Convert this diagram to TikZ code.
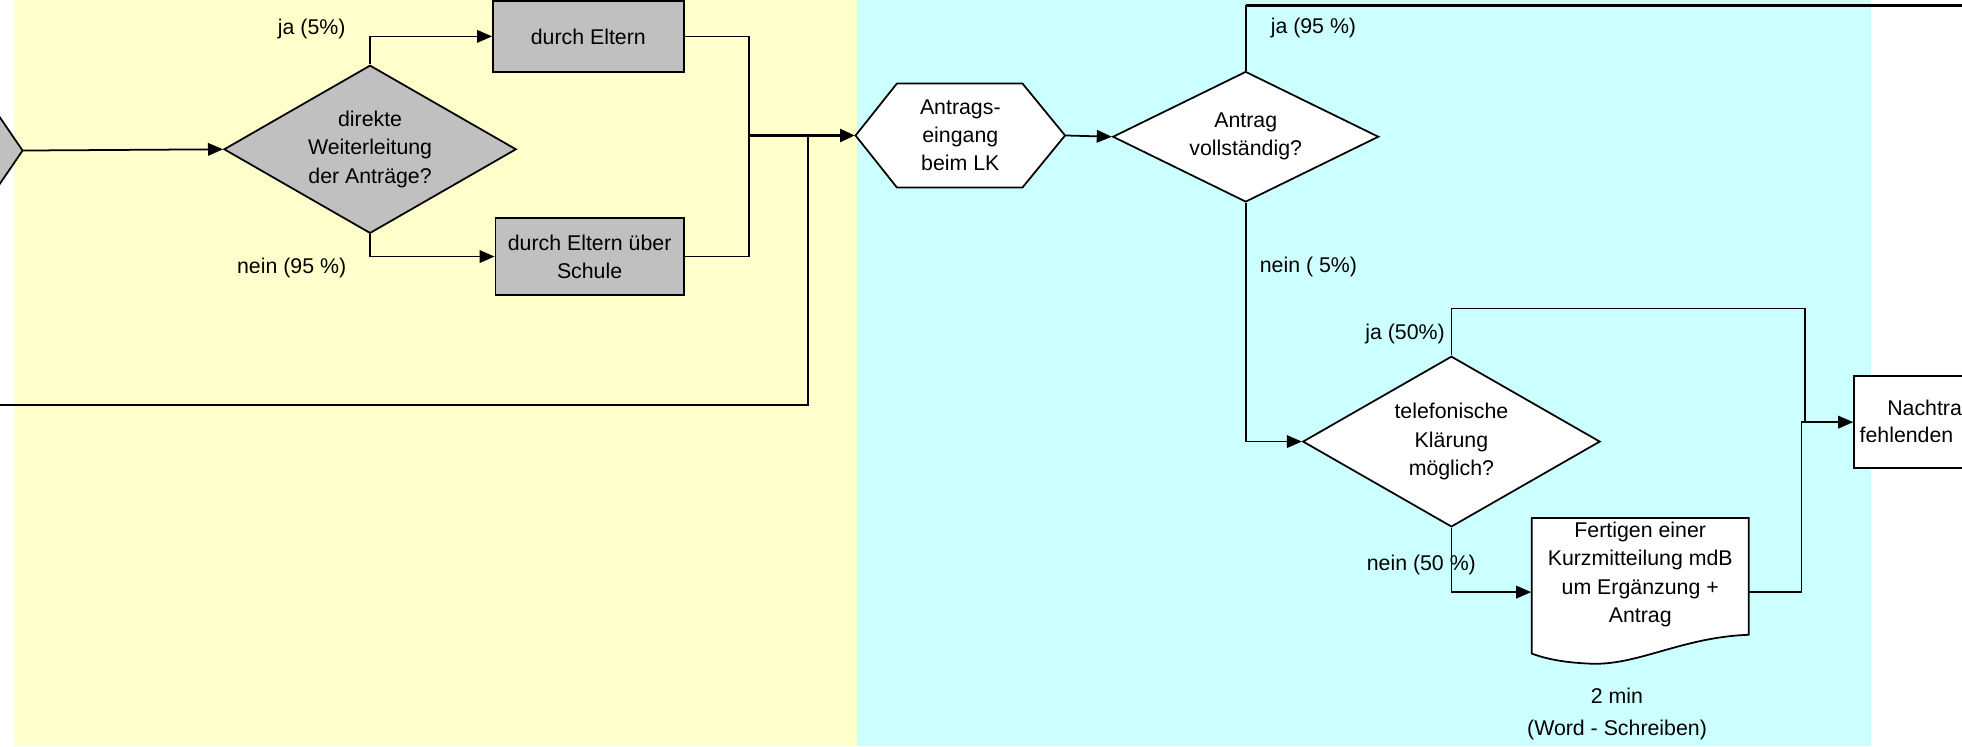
\documentclass[tikz,border=0pt]{standalone}
\usepackage{fontspec}
\setmainfont{Liberation Sans}
\usetikzlibrary{shapes.geometric,arrows.meta,calc}
\definecolor{bgyellow}{HTML}{FFFFCC}
\definecolor{bgcyan}{HTML}{CCFFFF}
\definecolor{boxgrey}{HTML}{C0C0C0}
\begin{document}
\begin{tikzpicture}[x=0.5pt,y=-0.5pt,
  txt/.style={font=\fontsize{8.5}{11.25}\selectfont, align=center, inner sep=0pt},
  conn/.style={line width=0.7pt, draw=black},
  arr/.style={conn, -{Triangle[length=6pt,width=5pt]}},
  greybox/.style={txt, rectangle, draw=black, line width=0.7pt, fill=boxgrey},
  whitebox/.style={txt, rectangle, draw=black, line width=0.7pt, fill=white},
  decision/.style={txt, diamond, draw=black, line width=0.7pt},
  shapeline/.style={draw=black, line width=0.7pt}
]
\useasboundingbox (0,0) rectangle (1564,595);
\clip (0,0) rectangle (1564,595);
% backgrounds
\fill[white] (0,0) rectangle (1564,595);
\fill[bgyellow] (11,0) rectangle (683,595);
\fill[bgcyan] (683,0) rectangle (1491.5,595);

% left partial shape
\draw[shapeline, fill=boxgrey] (-8,82) -- (18,120) -- (-8,158);
\coordinate (lefttip) at (18,120);

% nodes
\node[decision, fill=boxgrey, aspect=1.74, minimum width=116.5pt, minimum height=67pt] (d1) at (295,119) {direkte\\Weiterleitung\\der Antr\"age?};
\node[greybox, minimum width=76pt, minimum height=28.5pt] (b1) at (469,29) {durch Eltern};
\node[greybox, minimum width=75pt, minimum height=30.5pt] (b2) at (470,204.5) {durch Eltern \"uber\\Schule};

\draw[shapeline, fill=white] (682,108) -- (715,66.5) -- (815,66.5) -- (849,108) -- (815,149.5) -- (715,149.5) -- cycle;
\node[txt, minimum width=83.5pt, minimum height=41.5pt] (hex) at (765.5,108) {Antrags-\\eingang\\beim LK};

\node[decision, fill=white, aspect=2.04, minimum width=106pt, minimum height=52pt] (d2) at (993,109) {Antrag\\vollst\"andig?};
\node[decision, fill=white, aspect=1.74, minimum width=118.5pt, minimum height=68pt] (d3) at (1157,352) {telefonische\\Kl\"arung\\m\"oglich?};

\draw[shapeline, fill=white] (1221,413) -- (1394,413) -- (1394,506)
  .. controls (1340,508) and (1305,531) .. (1267,529)
  .. controls (1245,528) and (1232,525) .. (1221,521) -- cycle;
\node[minimum width=86.5pt, minimum height=59pt, inner sep=0pt] (doc) at (1307.5,472) {};
\node[txt] (doctxt) at (1307.5,458) {Fertigen einer\\Kurzmitteilung mdB\\um Erg\"anzung +\\Antrag};

\node[whitebox, minimum width=91pt, minimum height=36.5pt] (nach) at (1569,336.5) {};
\node[txt, anchor=west] (nt1) at (1504,325) {Nachtra};
\node[txt, anchor=west] (nt2) at (1482,347) {fehlenden};

% labels
\node[txt] (l1) at (248.5,23) {ja (5\%)};
\node[txt] (l2) at (232.5,214) {nein (95 \%)};
\node[txt] (l3) at (1047,22.5) {ja (95 \%)};
\node[txt] (l4) at (1043,213) {nein ( 5\%)};
\node[txt] (l5) at (1120,266) {ja (50\%)};
\node[txt] (l6) at (1133,450) {nein (50 \%)};
\node[txt] (t1) at (1289,555) {2 min};
\node[txt] (t2) at (1289,582) {(Word - Schreiben)};

% coordinates
\coordinate (j1) at (597,108);
\coordinate (j2) at (644,108);
\coordinate (lb) at (-5,323);
\coordinate (tc) at (993,4);
\coordinate (tr) at (1580,4);
\coordinate (j3) at (1439,246);
\coordinate (j4) at (1436,336.5);

% connectors
\draw[arr] (lefttip) -- (d1.west);
\draw[arr] (d1.north) |- (b1.west);
\draw[arr] (d1.south) |- (b2.west);
\draw[conn] (b1.east) -| (j1);
\draw[conn] (b2.east) -| (j1);
\draw[conn, line width=0.9pt] (lb) -| (j2);
\draw[conn, line width=1.5pt, -{Triangle[length=6pt,width=5pt]}] (j1) -- (hex.west);
\draw[arr] (hex.east) -- (d2.west);
\draw[conn] (d2.north) -- (tc);
\draw[conn, line width=1.2pt] (tc) -- (tr);
\draw[arr] (d2.south) |- (d3.west);
\draw[conn] (d3.north) |- (j3) -- (j3 |- nach.west);
\draw[arr] (d3.south) |- (doc.west);
\draw[arr] (doc.east) -| (j4) -- (nach.west);
\end{tikzpicture}
\end{document}
